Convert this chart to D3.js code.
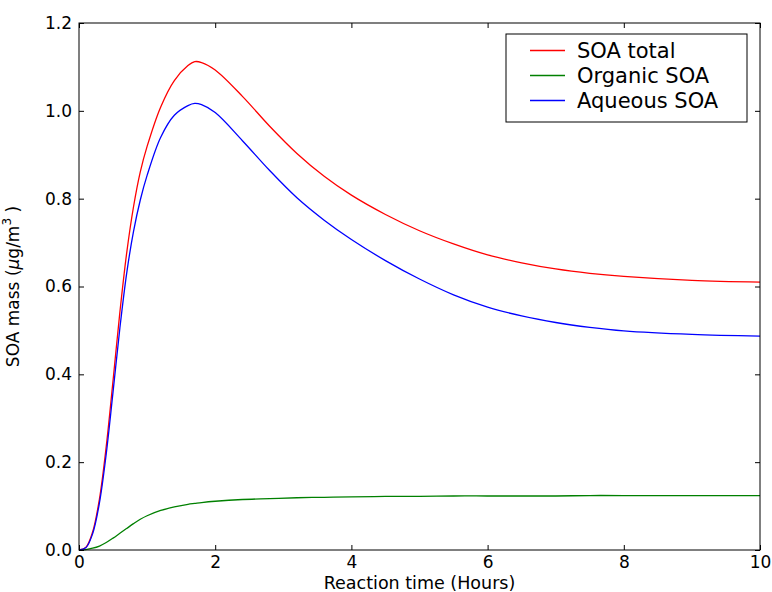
<!DOCTYPE html>
<html>
<head>
<meta charset="utf-8">
<script src="https://cdn.jsdelivr.net/npm/d3@7"></script>
<style>
  body { margin: 0; background: #fff; }
  text { font-family: "DejaVu Sans", sans-serif; fill: #000; }
</style>
</head>
<body>
<script>
// reaction time in hours
const time = [0, 0.1, 0.2, 0.3, 0.4, 0.5, 0.6, 0.7, 0.8, 0.9, 1.0, 1.2, 1.4, 1.6, 1.7, 1.8, 2.0, 2.4, 2.8, 3.2, 3.6, 4.0, 4.5, 5.0, 5.5, 6.0, 6.5, 7.0, 7.5, 8.0, 9.0, 10.0];
const soaTotal = [0, 0.006, 0.041, 0.116, 0.236, 0.386, 0.541, 0.676, 0.781, 0.861, 0.919, 1.009, 1.069, 1.103, 1.112, 1.11, 1.093, 1.033, 0.965, 0.903, 0.851, 0.808, 0.764, 0.727, 0.697, 0.672, 0.654, 0.640, 0.630, 0.623, 0.614, 0.610];
const organicSoa = [0, 0.001, 0.004, 0.009, 0.017, 0.027, 0.038, 0.049, 0.060, 0.070, 0.078, 0.090, 0.098, 0.104, 0.106, 0.108, 0.111, 0.115, 0.117, 0.119, 0.120, 0.121, 0.122, 0.122, 0.123, 0.123, 0.123, 0.123, 0.124, 0.124, 0.124, 0.124];
const aqueousSoa = [0, 0.005, 0.037, 0.107, 0.219, 0.36, 0.505, 0.63, 0.725, 0.797, 0.853, 0.94, 0.99, 1.012, 1.017, 1.014, 0.996, 0.932, 0.864, 0.802, 0.751, 0.707, 0.659, 0.617, 0.581, 0.553, 0.533, 0.518, 0.507, 0.499, 0.491, 0.487];

const seriesNames = ["SOA total", "Organic SOA", "Aqueous SOA"];
const seriesColors = ["#ff0000", "#008000", "#0000ff"];
const xTicks = [0, 2, 4, 6, 8, 10];
const yTicks = [0, 0.2, 0.4, 0.6, 0.8, 1.0, 1.2];

const width = 772, height = 592;
const margin = { top: 23, right: 12, bottom: 42, left: 79 };
const w = width - margin.left - margin.right;
const h = height - margin.top - margin.bottom;

const svg = d3.select("body").append("svg").attr("width", width).attr("height", height);
const g = svg.append("g").attr("transform", `translate(${margin.left},${margin.top})`);

const x = d3.scaleLinear().domain([0, 10]).range([0, w]);
const y = d3.scaleLinear().domain([0, 1.2]).range([h, 0]);

const series = [soaTotal, organicSoa, aqueousSoa];
const line = d3.line().curve(d3.curveCatmullRom.alpha(0.5))
    .x((d, i) => x(time[i]))
    .y(d => y(d));

series.forEach((s, k) => {
    g.append("path").datum(s).attr("d", line)
        .attr("fill", "none").attr("stroke", seriesColors[k]).attr("stroke-width", 1.3);
});

// axes, matplotlib style: ticks inward on all four sides
const tickLen = 5;
g.append("g").attr("transform", `translate(0,${h})`)
    .call(d3.axisBottom(x).tickValues(xTicks).tickFormat(d3.format("d")).tickSizeInner(-tickLen).tickSizeOuter(0).tickPadding(6))
    .call(a => a.select(".domain").remove());
g.append("g")
    .call(d3.axisTop(x).tickValues(xTicks).tickFormat("").tickSizeInner(-tickLen).tickSizeOuter(0))
    .call(a => a.select(".domain").remove());
g.append("g")
    .call(d3.axisLeft(y).tickValues(yTicks).tickFormat(d3.format(".1f")).tickSizeInner(-tickLen).tickSizeOuter(0).tickPadding(7))
    .call(a => a.select(".domain").remove());
g.append("g").attr("transform", `translate(${w},0)`)
    .call(d3.axisRight(y).tickValues(yTicks).tickFormat("").tickSizeInner(-tickLen).tickSizeOuter(0))
    .call(a => a.select(".domain").remove());

g.selectAll(".tick line").attr("stroke", "#000");
g.selectAll(".tick text").style("font-size", "17px").style("font-family", "DejaVu Sans");

g.append("rect").attr("width", w).attr("height", h)
    .attr("fill", "none").attr("stroke", "#000").attr("stroke-width", 1);

// axis labels
svg.append("text").attr("x", margin.left + w / 2).attr("y", 589)
    .attr("text-anchor", "middle").style("font-size", "17.5px")
    .text("Reaction time (Hours)");

const yl = svg.append("text")
    .attr("transform", `translate(19,${margin.top + h / 2}) rotate(-90)`)
    .attr("text-anchor", "middle").style("font-size", "17px");
yl.append("tspan").text("SOA mass (");
yl.append("tspan").style("font-style", "italic").text("μ");
yl.append("tspan").text("g/m");
yl.append("tspan").attr("dy", -8).style("font-size", "12px").text("3");
yl.append("tspan").attr("dy", 8).text(" )");

// legend
const lg = svg.append("g").attr("transform", "translate(506,34)");
lg.append("rect").attr("width", 241).attr("height", 88)
    .attr("fill", "#fff").attr("stroke", "#000").attr("stroke-width", 1);
seriesNames.forEach((name, k) => {
    const yy = 16.5 + k * 25;
    lg.append("line").attr("x1", 24).attr("x2", 59).attr("y1", yy).attr("y2", yy)
        .attr("stroke", seriesColors[k]).attr("stroke-width", 1.3);
    lg.append("text").attr("x", 71).attr("y", yy + 7)
        .style("font-size", "21px").text(name);
});
</script>
</body>
</html>
